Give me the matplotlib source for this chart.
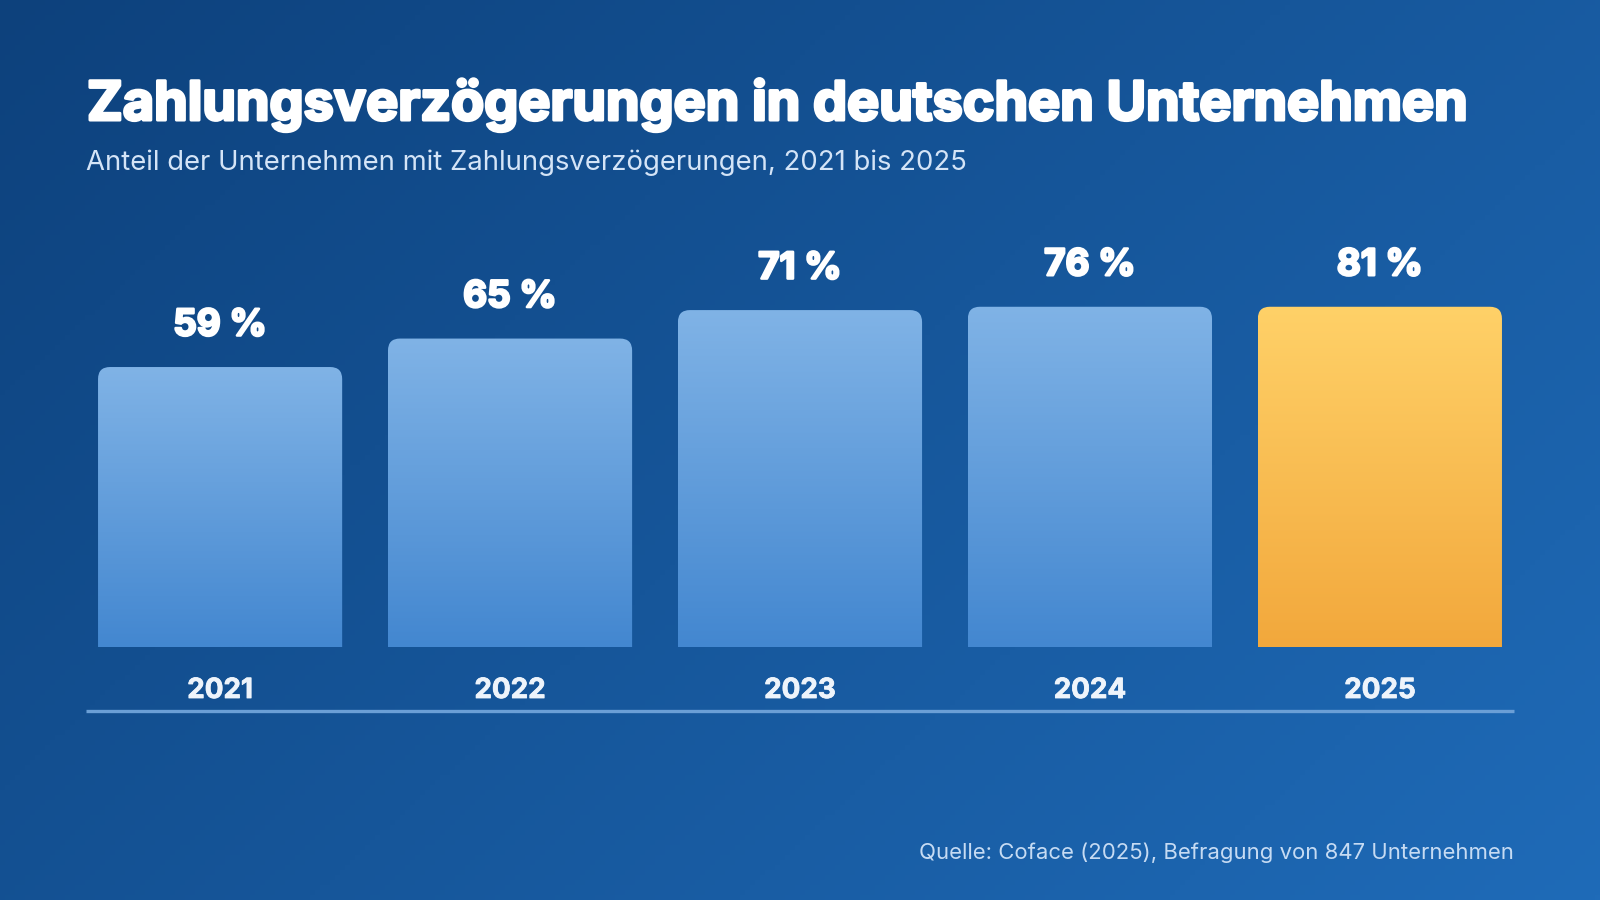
import numpy as np
import matplotlib
matplotlib.use("Agg")
import matplotlib.pyplot as plt
import matplotlib.patheffects as pe
from matplotlib.path import Path
from matplotlib.patches import PathPatch
from matplotlib.colors import LinearSegmentedColormap, to_rgb
from matplotlib.lines import Line2D

# ---------------- data ----------------
years = ["2021", "2022", "2023", "2024", "2025"]
shares = [59, 65, 71, 76, 81]
value_labels = ["59 %", "65 %", "71 %", "76 %", "81 %"]
title = "Zahlungsverzögerungen in deutschen Unternehmen"
subtitle = "Anteil der Unternehmen mit Zahlungsverzögerungen, 2021 bis 2025"
source = "Quelle: Coface (2025), Befragung von 847 Unternehmen"

# ---------------- style ----------------
W, H = 1600, 900
DPI = 100
FONT = ["Inter", "Lato", "DejaVu Sans"]
BAR_CAP = 71.7          # displayed bar height is capped (as in the reference)
BAR_W = 0.842
RADIUS_PX = 12

fig = plt.figure(figsize=(W / DPI, H / DPI), dpi=DPI)
renderer = fig.canvas.get_renderer()

# background gradient
bg = fig.add_axes([0, 0, 1, 1], zorder=-10)
bg.axis("off")
nx, ny = 320, 180
xx, yy = np.meshgrid(np.linspace(0, 1, nx), np.linspace(0, 1, ny))
t = np.clip(0.62 * xx + 0.38 * yy, 0, 1)
c0 = np.array(to_rgb("#0d417c"))
c1 = np.array(to_rgb("#1f6bb8"))
img = c0[None, None, :] * (1 - t[..., None]) + c1[None, None, :] * t[..., None]
bg.imshow(img, extent=(0, 1, 0, 1), aspect="auto", origin="upper")
bg.set_xlim(0, 1)
bg.set_ylim(0, 1)


def fy(px_from_top):
    return (H - px_from_top) / H


def fit_text(x, y, s, target_w, size, **kw):
    txt = fig.text(x, y, s, fontsize=size, **kw)
    for _ in range(3):
        w = txt.get_window_extent(renderer).width
        size = size * target_w / w
        txt.set_fontsize(size)
    return txt


def heavy(lw, color="white"):
    return [pe.withStroke(linewidth=lw, foreground=color)]


ttl = fit_text(87 / W, fy(120), title, 1380, 40, color="white", family=FONT,
               fontweight="bold", va="baseline", ha="left")
ttl.set_path_effects(heavy(2.2))
fit_text(86 / W, fy(170), subtitle, 881, 18, color="#d4e4f7", family=FONT,
         fontweight="normal", va="baseline", ha="left")
fit_text(1514 / W, fy(859), source, 595, 16, color="#c6dbf3", family=FONT,
         fontweight="normal", va="baseline", ha="right")

# ---------------- bar axes ----------------
ax_left, ax_right = 86, 1514
ax_bottom, ax_top = 647, 200
ax = fig.add_axes([ax_left / W, fy(ax_bottom), (ax_right - ax_left) / W,
                   (ax_bottom - ax_top) / H])
ax.set_xlim(-0.4625, 4.4625)
ax.set_ylim(0, 94.2)
ax.axis("off")
ax.patch.set_alpha(0)

px_per_x = (ax_right - ax_left) / (4.4625 + 0.4625)
px_per_y = (ax_bottom - ax_top) / 94.2
rx = RADIUS_PX / px_per_x
ry = RADIUS_PX / px_per_y

blue_cmap = LinearSegmentedColormap.from_list("b", ["#4387d0", "#80b3e6"])
gold_cmap = LinearSegmentedColormap.from_list("g", ["#f2a83c", "#ffd168"])

grad = np.linspace(0, 1, 256).reshape(-1, 1)
for i, v in enumerate(shares):
    h = min(v, BAR_CAP)
    x0, x1 = i - BAR_W / 2, i + BAR_W / 2
    verts = [(x0, 0), (x0, h - ry), (x0, h), (x0 + rx, h), (x1 - rx, h),
             (x1, h), (x1, h - ry), (x1, 0), (x0, 0)]
    codes = [Path.MOVETO, Path.LINETO, Path.CURVE3, Path.CURVE3, Path.LINETO,
             Path.CURVE3, Path.CURVE3, Path.LINETO, Path.CLOSEPOLY]
    patch = PathPatch(Path(verts, codes), facecolor="none", edgecolor="none")
    ax.add_patch(patch)
    cmap = gold_cmap if i == len(shares) - 1 else blue_cmap
    im = ax.imshow(grad, extent=(x0, x1, 0, h), origin="lower", aspect="auto",
                   cmap=cmap, vmin=0, vmax=1, zorder=2)
    im.set_clip_path(patch)
    ax.annotate(value_labels[i], xy=(i, h), xytext=(0, 41 * 0.72),
                textcoords="offset points", ha="center", va="center",
                fontsize=26.5, fontweight="bold", color="white", family=FONT,
                annotation_clip=False, path_effects=heavy(1.8))
    ax.annotate(years[i], xy=(i, 0), xytext=(0, -44 * 0.72),
                textcoords="offset points", ha="center", va="center",
                fontsize=20, fontweight="bold", color="#eef4fb", family=FONT,
                annotation_clip=False, path_effects=heavy(0.6, "#eef4fb"))

ax.set_xlim(-0.4625, 4.4625)
ax.set_ylim(0, 94.2)

# baseline rule
fig.add_artist(Line2D([86 / W, 1514 / W], [fy(711), fy(711)], color="#6b9fd6",
                      lw=2.4, solid_capstyle="butt"))

fig.savefig("out.png", dpi=DPI)
